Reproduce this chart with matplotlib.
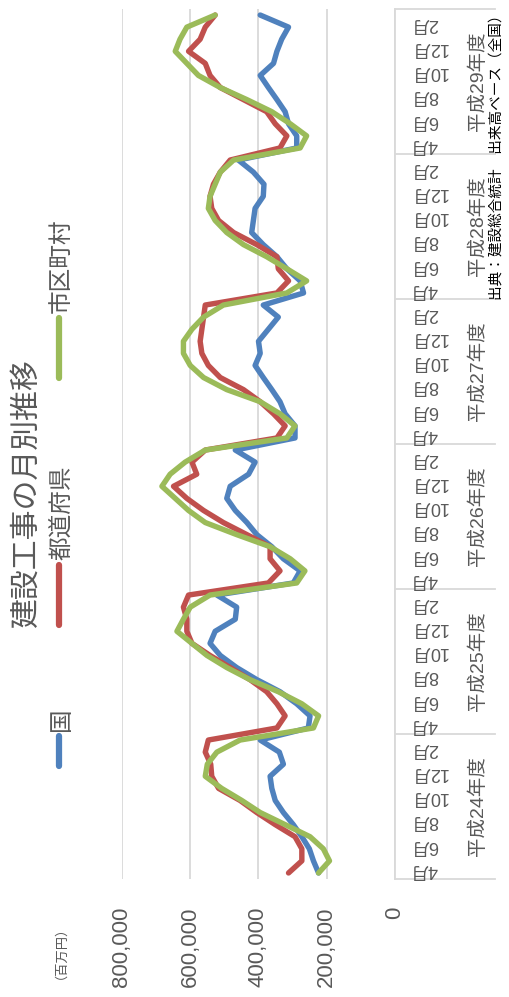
import matplotlib
matplotlib.use("Agg")
import matplotlib.pyplot as plt
from matplotlib.transforms import blended_transform_factory

plt.rcParams["font.family"] = ["Liberation Sans", "Noto Sans CJK JP"]

# ── データ（百万円） ─────────────────────────────────────────────
FISCAL_YEARS = ["平成24年度", "平成25年度", "平成26年度",
                "平成27年度", "平成28年度", "平成29年度"]
MONTHS = [4, 5, 6, 7, 8, 9, 10, 11, 12, 1, 2, 3]
LABELED_MONTHS = [4, 6, 8, 10, 12, 2]

KUNI = [
    224000, 239000, 251000, 273000, 298000, 327000, 351000, 361000, 366000, 327000, 339000, 395000,
    254000, 249000, 288000, 337000, 405000, 464000, 512000, 542000, 527000, 468000, 464000, 522000,
    298000, 278000, 327000, 361000, 405000, 434000, 468000, 493000, 483000, 429000, 410000, 468000,
    293000, 293000, 322000, 337000, 361000, 386000, 410000, 395000, 400000, 371000, 342000, 386000,
    268000, 278000, 317000, 346000, 386000, 420000, 415000, 410000, 386000, 384000, 415000, 459000,
    288000, 288000, 312000, 322000, 346000, 371000, 395000, 356000, 346000, 332000, 312000, 395000,
]
TODOFUKEN = [
    312000, 273000, 273000, 293000, 351000, 405000, 454000, 517000, 537000, 540000, 556000, 547000,
    346000, 322000, 346000, 376000, 425000, 483000, 542000, 595000, 610000, 610000, 620000, 605000,
    371000, 337000, 366000, 366000, 434000, 503000, 561000, 610000, 649000, 581000, 595000, 556000,
    346000, 322000, 356000, 395000, 444000, 512000, 547000, 566000, 571000, 566000, 561000, 556000,
    346000, 312000, 342000, 346000, 405000, 473000, 517000, 537000, 542000, 532000, 512000, 483000,
    337000, 317000, 351000, 376000, 444000, 512000, 542000, 556000, 605000, 571000, 556000, 527000,
]
SHIKUCHOSON = [
    224000, 192000, 210000, 249000, 322000, 395000, 449000, 508000, 556000, 550000, 522000, 454000,
    239000, 224000, 273000, 342000, 425000, 493000, 551000, 595000, 639000, 620000, 600000, 542000,
    288000, 264000, 307000, 366000, 464000, 556000, 605000, 644000, 683000, 659000, 615000, 556000,
    317000, 293000, 337000, 395000, 493000, 561000, 600000, 620000, 620000, 595000, 561000, 503000,
    317000, 259000, 317000, 376000, 444000, 493000, 527000, 547000, 542000, 527000, 512000, 473000,
    278000, 259000, 307000, 361000, 434000, 512000, 576000, 610000, 644000, 630000, 610000, 527000,
]
VALUE_TICKS = [0, 200000, 400000, 600000, 800000]

SERIES = [
    ("国", KUNI, "#4F81BD"),
    ("都道府県", TODOFUKEN, "#C0504D"),
    ("市区町村", SHIKUCHOSON, "#9BBB59"),
]

TEXT = "#595959"
GRID = "#D9D9D9"
W, H = 510, 997


def fx(px):
    return px / W


def fy(py):
    return 1 - py / H


fig = plt.figure(figsize=(W / 100, H / 100), dpi=100)
ax = fig.add_axes([fx(122), fy(879), fx(395) - fx(122), fy(9) - fy(879)])

# 横倒しのグラフ: 値は右から左へ、月は下から上へ
n = len(KUNI)
idx = list(range(n))
for name, vals, color in SERIES:
    ax.plot(vals, idx, color=color, lw=3.9, solid_joinstyle="round",
            solid_capstyle="round", zorder=3)

ax.set_xlim(VALUE_TICKS[-1], 0)
ax.set_ylim(-0.5, n - 0.5)
ax.set_xticks(VALUE_TICKS)
ax.set_xticklabels([f"{v:,}" for v in VALUE_TICKS], rotation=90,
                   fontsize=16, color=TEXT)
ax.tick_params(axis="x", length=0, pad=20)
ax.set_yticks([])
for s in ax.spines.values():
    s.set_visible(False)
ax.grid(axis="x", color=GRID, lw=1.3, zorder=0)
ax.axvline(0, color=GRID, lw=1.3, clip_on=False, zorder=1)

# 月・年度の二段ラベル
trans = blended_transform_factory(fig.transFigure, ax.transData)
for i in idx:
    m = MONTHS[i % 12]
    if m in LABELED_MONTHS:
        ax.text(fx(410), i + 0.3, f"{m}月", transform=trans, rotation=180,
                ha="left", va="center", fontsize=13, color=TEXT)
for k, fy_name in enumerate(FISCAL_YEARS):
    ax.text(fx(478), 12 * k + 5.5, fy_name, transform=trans, rotation=90,
            ha="center", va="center", fontsize=14, color=TEXT)
for k in range(len(FISCAL_YEARS) + 1):
    ax.plot([fx(395), fx(495)], [12 * k - 0.5] * 2, transform=trans,
            color=GRID, lw=1.3, clip_on=False)

# タイトル・凡例・注記
fig.text(fx(27), fy(493), "建設工事の月別推移", rotation=90, ha="center",
         va="center", fontsize=21.5, color=TEXT)

legend_pos = [(766, 736), (625, 565), (378, 318)]
for (name, vals, color), (y0, y1) in zip(SERIES, legend_pos):
    fig.add_artist(plt.Line2D([fx(59), fx(59)], [fy(y0), fy(y1)],
                              transform=fig.transFigure, color=color, lw=4.5,
                              solid_capstyle="round"))
    fig.text(fx(62), fy(y1 - 5), name, rotation=90, ha="center", va="bottom",
             fontsize=17, color=TEXT)

fig.text(fx(54), fy(946), "（百万円）", rotation=90, ha="center",
         va="center", fontsize=9.5, color=TEXT)
fig.text(fx(497), fy(300), "出典：建設総合統計　出来高ベース（全国）",
         rotation=90, ha="center", va="bottom", fontsize=10.5, color="black")

fig.savefig("out.png", dpi=100)
